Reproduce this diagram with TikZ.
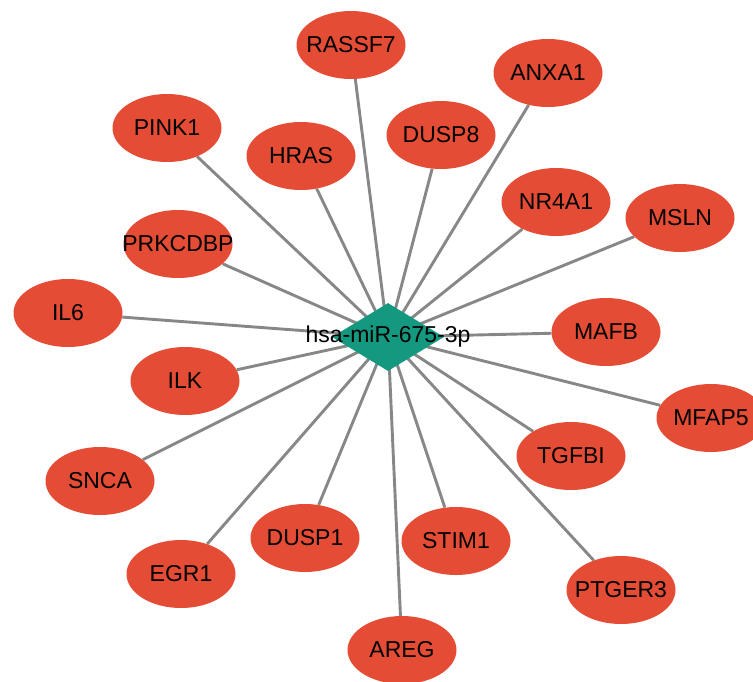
\documentclass[tikz,border=0pt]{standalone}
\usepackage{fontspec}
\setmainfont{Liberation Sans}
\usetikzlibrary{shapes.geometric,backgrounds}
\definecolor{genered}{RGB}{229,76,53}
\definecolor{mirteal}{RGB}{20,152,128}
\definecolor{edgegray}{RGB}{135,135,135}
\newcommand{\genetext}[1]{\makebox[0pt][c]{#1}}
\tikzset{
  gene/.style={ellipse, fill=genered, minimum width=109pt, minimum height=68pt, inner sep=0pt,
    font=\fontsize{23}{27}\selectfont, text=black},
  mirshape/.style={diamond, fill=mirteal, minimum width=112pt, minimum height=68pt, inner sep=0pt},
  link/.style={draw=edgegray, line width=2.9pt}
}
\begin{document}
\begin{tikzpicture}[x=1pt,y=-1pt]
\useasboundingbox (0,0) rectangle (753,681);
\clip (0,0) rectangle (753,681);
\node[gene] (RASSF7) at (351,45) {\genetext{RASSF7}};
\node[gene] (ANXA1) at (548,73) {\genetext{ANXA1}};
\node[gene] (PINK1) at (167,128) {\genetext{PINK1}};
\node[gene] (HRAS) at (301,156) {\genetext{HRAS}};
\node[gene] (DUSP8) at (441,135) {\genetext{DUSP8}};
\node[gene] (NR4A1) at (556,202) {\genetext{NR4A1}};
\node[gene] (MSLN) at (680,218) {\genetext{MSLN}};
\node[gene] (PRKCDBP) at (178,244) {\genetext{PRKCDBP}};
\node[gene] (IL6) at (68,313) {\genetext{IL6}};
\node[gene] (MAFB) at (606,332) {\genetext{MAFB}};
\node[gene] (ILK) at (185,381) {\genetext{ILK}};
\node[gene] (MFAP5) at (711,418) {\genetext{MFAP5}};
\node[gene] (TGFBI) at (571,456) {\genetext{TGFBI}};
\node[gene] (SNCA) at (100,481) {\genetext{SNCA}};
\node[gene] (DUSP1) at (305,538) {\genetext{DUSP1}};
\node[gene] (STIM1) at (456,541) {\genetext{STIM1}};
\node[gene] (EGR1) at (181,574) {\genetext{EGR1}};
\node[gene] (PTGER3) at (621,590) {\genetext{PTGER3}};
\node[gene] (AREG) at (402,650) {\genetext{AREG}};
\node[mirshape] (mir) at (388,337) {};
\node[font=\fontsize{23}{27}\selectfont, text=black, inner sep=0pt] (mirlabel) at (388,337) {hsa-miR-675-3p};
\begin{scope}[on background layer]
\foreach \g in {RASSF7,ANXA1,PINK1,HRAS,DUSP8,NR4A1,MSLN,PRKCDBP,IL6,MAFB,ILK,MFAP5,TGFBI,SNCA,DUSP1,STIM1,EGR1,PTGER3,AREG}
  \draw[link] (\g) -- (mir.center);
\end{scope}
\end{tikzpicture}
\end{document}
